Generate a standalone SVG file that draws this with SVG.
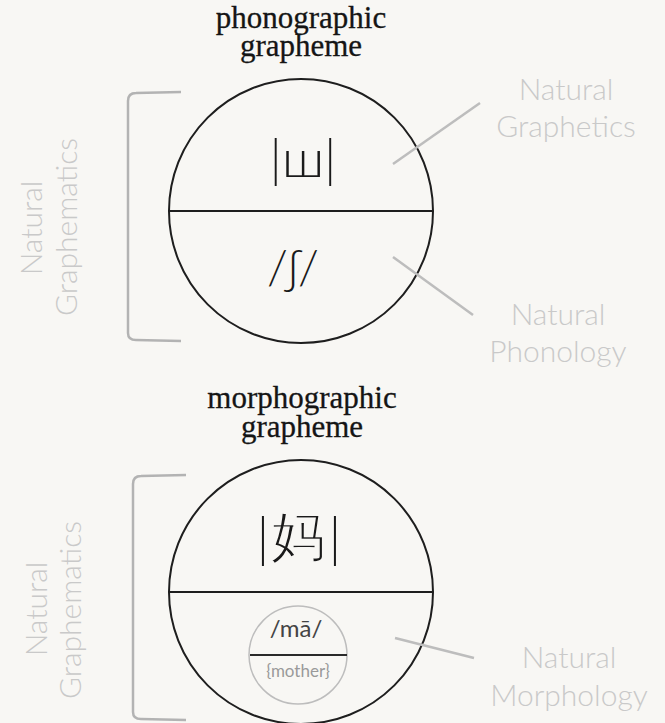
<svg xmlns="http://www.w3.org/2000/svg" width="665" height="723" viewBox="0 0 665 723">
<style>
.title{font-family:"Liberation Serif","Times New Roman",serif;font-size:31px;fill:#151515;stroke:#151515;stroke-width:0.3;text-anchor:middle}
.lbl{font-family:Lato,"Noto Sans",sans-serif;font-weight:300;font-size:30px;fill:#c9c9c9;text-anchor:middle}
.big{font-family:Lato,"Noto Sans","DejaVu Sans",sans-serif;font-weight:300;fill:#1a1a1a;text-anchor:middle}
.circ{fill:none;stroke:#1e1e1e;stroke-width:2}
.bar{stroke:#1e1e1e;stroke-width:2.2}
.conn{stroke:#bdbdbd;stroke-width:2.5;fill:none}
.brk{stroke:#b3b3b3;stroke-width:2.5;fill:none}
</style>
<rect width="665" height="723" fill="#f8f7f4"/>

<g id="phonographic-grapheme">
  <text class="title" x="301" y="28">phonographic</text>
  <text class="title" x="301" y="56">grapheme</text>
  <circle class="circ" cx="301" cy="211" r="132"/>
  <line class="bar" x1="169" y1="211" x2="433" y2="211"/>
  <text class="big" x="303" y="177" font-size="52">|ш|</text>
  <text class="big" x="293" y="284" font-size="48" font-family="'Noto Sans','DejaVu Sans',sans-serif">/ʃ/</text>
</g>

<g id="morphographic-grapheme">
  <text class="title" x="302" y="408">morphographic</text>
  <text class="title" x="302" y="437">grapheme</text>
  <circle class="circ" cx="301" cy="592" r="132"/>
  <line class="bar" x1="169" y1="592" x2="433" y2="592"/>
  <text class="big" x="263" y="557" font-size="54">|</text>
  <text class="big" x="298" y="555" font-size="54" font-family="'Noto Sans CJK SC',sans-serif" stroke="#f8f7f4" stroke-width="1.6">妈</text>
  <text class="big" x="335" y="557" font-size="54">|</text>
  <g id="inner-circle">
    <circle cx="298" cy="655" r="49" fill="none" stroke="#bdbdbd" stroke-width="1.5"/>
    <line x1="250" y1="655" x2="347" y2="655" stroke="#2a2a2a" stroke-width="2"/>
    <text x="296" y="637" font-family="Lato,'Noto Sans',sans-serif" font-size="24" fill="#444" text-anchor="middle">/mā/</text>
    <text x="298" y="677" font-family="Lato,'Noto Sans',sans-serif" font-size="17" fill="#9a9a9a" text-anchor="middle">{mother}</text>
  </g>
</g>

<g id="label-natural-graphetics">
  <text class="lbl" x="566" y="100">Natural</text>
  <text class="lbl" x="566" y="137">Graphetics</text>
</g>
<g id="label-natural-phonology">
  <text class="lbl" x="558" y="325">Natural</text>
  <text class="lbl" x="558" y="362">Phonology</text>
</g>
<g id="label-natural-morphology">
  <text class="lbl" x="569" y="668">Natural</text>
  <text class="lbl" x="569" y="706">Morphology</text>
</g>
<g id="label-natural-graphematics-1">
  <text class="lbl" transform="translate(42,228) rotate(-90)">Natural</text>
  <text class="lbl" transform="translate(77,227) rotate(-90)">Graphematics</text>
</g>
<g id="label-natural-graphematics-2">
  <text class="lbl" transform="translate(47,609) rotate(-90)">Natural</text>
  <text class="lbl" transform="translate(81,610) rotate(-90)">Graphematics</text>
</g>

<g id="connectors">
  <line class="conn" x1="480" y1="103" x2="393" y2="164"/>
  <line class="conn" x1="393" y1="257" x2="473" y2="315"/>
  <line class="conn" x1="395" y1="638" x2="474" y2="658"/>
  <path class="brk" d="M181,92 L136,93 Q128,93 128,101 L128,333 Q128,340 136,340 L181,341"/>
  <path class="brk" d="M186,475 L141,476 Q133,476 133,484 L133,712 Q133,719 141,719 L186,720"/>
</g>
</svg>
